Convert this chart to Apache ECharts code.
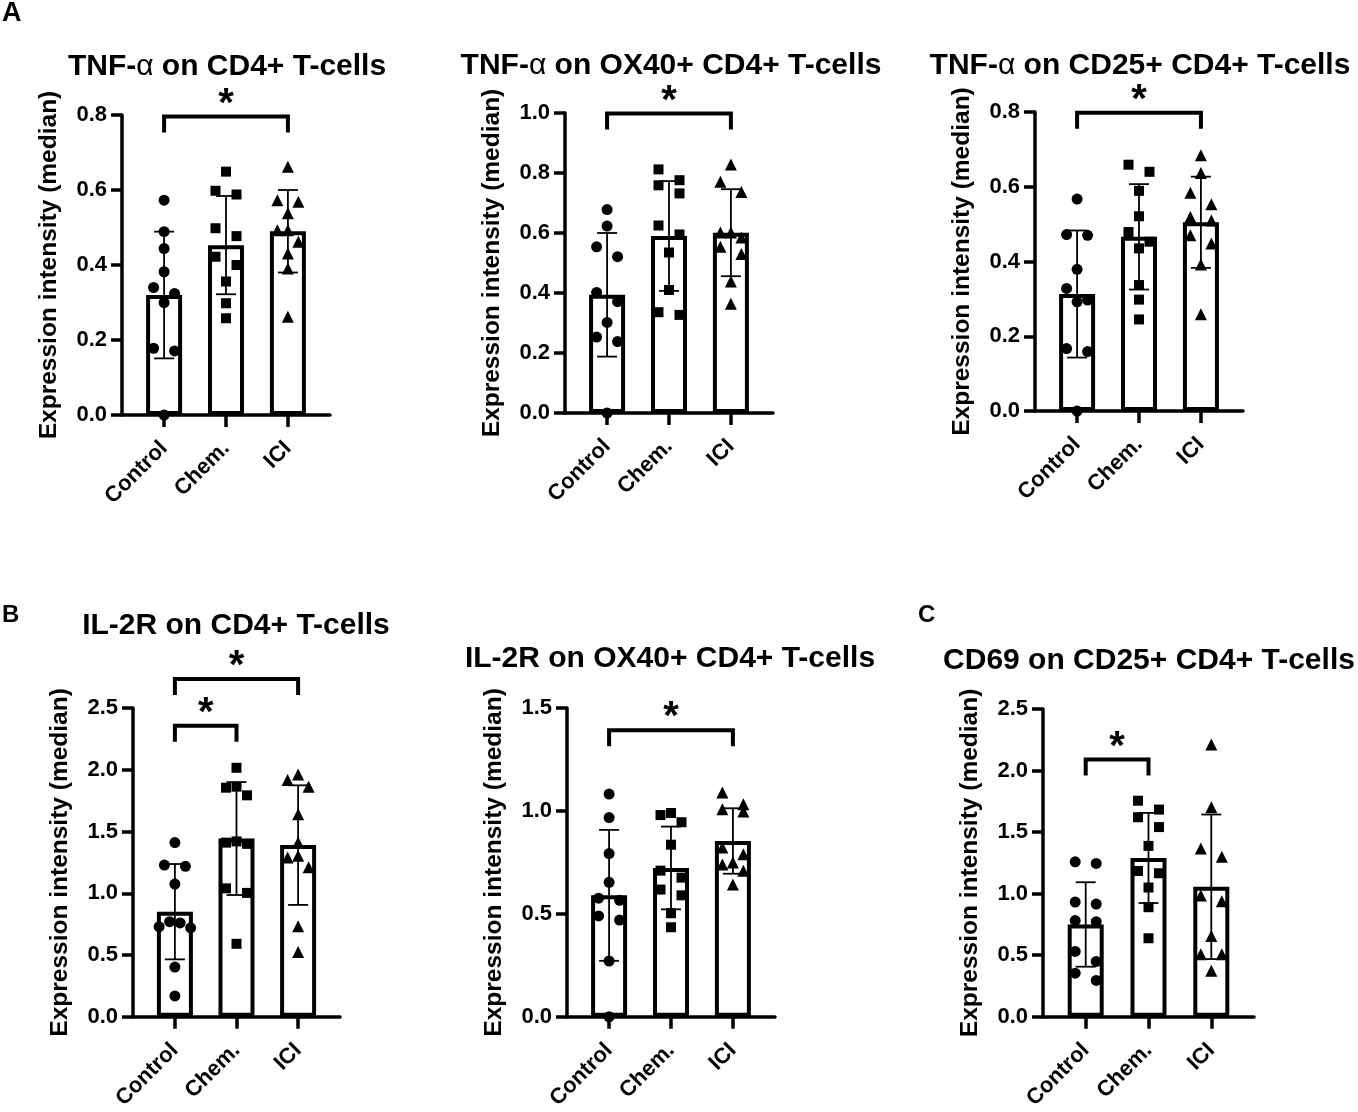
<!DOCTYPE html>
<html>
<head>
<meta charset="utf-8">
<script src="https://cdn.jsdelivr.net/npm/echarts@6/dist/echarts.min.js"></script>
<style>
html, body { margin: 0; padding: 0; background: #fff; }
#chart { width: 1358px; height: 1112px; }
</style>
</head>
<body>
<div id="chart"></div>
<script>
var groups = ['Control', 'Chem.', 'ICI'];
var yAxisName = 'Expression intensity (median)';

// A: TNF-a on CD4+ T-cells
var tnfCd4Control = [0.573, 0.489, 0.444, 0.382, 0.340, 0.324, 0.300, 0.178, 0.171, 0.0];
var tnfCd4Chem    = [0.649, 0.598, 0.588, 0.498, 0.477, 0.422, 0.400, 0.356, 0.298, 0.258];
var tnfCd4Ici     = [0.662, 0.573, 0.569, 0.538, 0.493, 0.493, 0.462, 0.431, 0.391, 0.262];
var tnfCd4Mean = [0.320, 0.453, 0.490];
var tnfCd4Sd   = [0.169, 0.131, 0.110];

// A: TNF-a on OX40+ CD4+ T-cells
var tnfOx40Control = [0.678, 0.623, 0.554, 0.521, 0.402, 0.371, 0.302, 0.253, 0.238, 0.0];
var tnfOx40Chem    = [0.812, 0.776, 0.759, 0.732, 0.625, 0.595, 0.535, 0.410, 0.336, 0.327];
var tnfOx40Ici     = [0.828, 0.771, 0.737, 0.602, 0.602, 0.585, 0.554, 0.530, 0.438, 0.364];
var tnfOx40Mean = [0.394, 0.590, 0.601];
var tnfOx40Sd   = [0.206, 0.183, 0.145];

// A: TNF-a on CD25+ CD4+ T-cells
var tnfCd25Control = [0.567, 0.472, 0.470, 0.379, 0.328, 0.297, 0.292, 0.167, 0.159, 0.0];
var tnfCd25Chem    = [0.659, 0.640, 0.589, 0.521, 0.479, 0.453, 0.435, 0.337, 0.298, 0.245];
var tnfCd25Ici     = [0.684, 0.637, 0.584, 0.553, 0.519, 0.510, 0.470, 0.448, 0.392, 0.259];
var tnfCd25Mean = [0.313, 0.466, 0.505];
var tnfCd25Sd   = [0.170, 0.141, 0.122];

// B: IL-2R on CD4+ T-cells
var il2rCd4Control = [1.411, 1.228, 1.218, 1.075, 0.770, 0.760, 0.730, 0.720, 0.403, 0.169];
var il2rCd4Chem    = [2.016, 1.863, 1.855, 1.793, 1.420, 1.410, 1.400, 1.040, 1.003, 0.591];
var il2rCd4Ici     = [1.962, 1.917, 1.863, 1.640, 1.411, 1.304, 1.290, 1.210, 0.734, 0.524];
var il2rCd4Mean = [0.851, 1.443, 1.390];
var il2rCd4Sd   = [0.386, 0.457, 0.484];

// B: IL-2R on OX40+ CD4+ T-cells
var il2rOx40Control = [1.082, 0.968, 0.793, 0.653, 0.576, 0.566, 0.490, 0.470, 0.271, 0.0];
var il2rOx40Chem    = [0.990, 0.980, 0.945, 0.836, 0.710, 0.676, 0.618, 0.590, 0.503, 0.435];
var il2rOx40Ici     = [1.089, 1.032, 1.008, 0.997, 0.822, 0.789, 0.750, 0.740, 0.710, 0.643];
var il2rOx40Mean = [0.590, 0.723, 0.854];
var il2rOx40Sd   = [0.318, 0.201, 0.159];

// C: CD69 on CD25+ CD4+ T-cells
var cd69Control = [1.259, 1.246, 0.932, 0.916, 0.782, 0.772, 0.531, 0.450, 0.354, 0.295];
var cd69Chem    = [1.755, 1.683, 1.621, 1.541, 1.388, 1.184, 1.166, 1.050, 0.890, 0.638];
var cd69Ici     = [2.211, 1.701, 1.367, 1.300, 0.986, 0.938, 0.656, 0.509, 0.509, 0.375];
var cd69Mean = [0.750, 1.290, 1.056];
var cd69Sd   = [0.343, 0.366, 0.587];

// significance brackets: [from group, to group, level]
var tnfCd4Sig   = [[0, 2, 0.796]];
var tnfOx40Sig  = [[0, 2, 0.998]];
var tnfCd25Sig  = [[0, 2, 0.798]];
var il2rCd4Sig  = [[0, 1, 2.357], [0, 2, 2.734]];
var il2rOx40Sig = [[0, 2, 1.392]];
var cd69Sig     = [[0, 1, 2.090]];

var font = '"Liberation Sans", Arial, Helvetica, sans-serif';
var X_MIN = -0.68, X_MAX = 2.68;
var symbols = ['circle', 'rect', 'triangle'];
var symbolSizes = [11, 10, 12];

var panels = [
  { title: 'TNF-{a|α} on CD4+ T-cells', values: [tnfCd4Control, tnfCd4Chem, tnfCd4Ici], mean: tnfCd4Mean, sd: tnfCd4Sd,
    sig: tnfCd4Sig, yMax: 0.8, yStep: 0.2, box: { left: 122, top: 115, width: 208, height: 300 }, tx: 227, ty: 67 },
  { title: 'TNF-{a|α} on OX40+ CD4+ T-cells', values: [tnfOx40Control, tnfOx40Chem, tnfOx40Ici], mean: tnfOx40Mean, sd: tnfOx40Sd,
    sig: tnfOx40Sig, yMax: 1.0, yStep: 0.2, box: { left: 565, top: 113, width: 208, height: 300 }, tx: 671, ty: 66 },
  { title: 'TNF-{a|α} on CD25+ CD4+ T-cells', values: [tnfCd25Control, tnfCd25Chem, tnfCd25Ici], mean: tnfCd25Mean, sd: tnfCd25Sd,
    sig: tnfCd25Sig, yMax: 0.8, yStep: 0.2, box: { left: 1035, top: 112, width: 208, height: 299 }, tx: 1140, ty: 66 },
  { title: 'IL-2R on CD4+ T-cells', values: [il2rCd4Control, il2rCd4Chem, il2rCd4Ici], mean: il2rCd4Mean, sd: il2rCd4Sd,
    sig: il2rCd4Sig, yMax: 2.5, yStep: 0.5, box: { left: 133, top: 708, width: 207, height: 310 }, tx: 236, ty: 626 },
  { title: 'IL-2R on OX40+ CD4+ T-cells', values: [il2rOx40Control, il2rOx40Chem, il2rOx40Ici], mean: il2rOx40Mean, sd: il2rOx40Sd,
    sig: il2rOx40Sig, yMax: 1.5, yStep: 0.5, box: { left: 567, top: 708, width: 208, height: 310 }, tx: 670, ty: 659 },
  { title: 'CD69 on CD25+ CD4+ T-cells', values: [cd69Control, cd69Chem, cd69Ici], mean: cd69Mean, sd: cd69Sd,
    sig: cd69Sig, yMax: 2.5, yStep: 0.5, box: { left: 1043, top: 709, width: 211, height: 311 }, tx: 1149, ty: 661 }
];

// spread points that sit at nearly the same height sideways (column scatter)
function swarm(values, pxPerY, slotX) {
  var order = values.map(function (v, i) { return i; })
    .sort(function (a, b) { return values[b] - values[a]; });
  var pattern = { 1: [0], 2: [-1, 1], 3: [0, -1, 1], 4: [-0.5, 0.5, -1.5, 1.5], 5: [0, -1, 1, -2, 2] };
  var off = [];
  var i = 0;
  while (i < order.length) {
    var j = i + 1;
    while (j < order.length && (values[order[i]] - values[order[j]]) * pxPerY < 13) j++;
    var pat = pattern[j - i] || pattern[5];
    for (var k = i; k < j; k++) off[order[k]] = (pat[k - i] || 0) * slotX;
    i = j;
  }
  return off;
}

var grid = [], xAxis = [], yAxis = [], series = [], graphic = [];
var axisColor = '#000';

panels.forEach(function (p, i) {
  grid.push({ left: p.box.left, top: p.box.top, width: p.box.width, height: p.box.height });
  xAxis.push({
    gridIndex: i, type: 'value', min: X_MIN, max: X_MAX,
    splitLine: { show: false },
    axisLine: { show: true, onZero: false, lineStyle: { color: axisColor, width: 3.5 } },
    axisTick: { show: true, customValues: [0, 1, 2], length: 12, lineStyle: { color: axisColor, width: 3.5 } },
    axisLabel: {
      customValues: [0, 1, 2], rotate: 45, margin: 30, color: '#000',
      fontSize: 22, fontWeight: 'bold', fontFamily: font,
      formatter: function (v) { return groups[Math.round(v)]; }
    }
  });
  yAxis.push({
    gridIndex: i, type: 'value', min: 0, max: p.yMax, interval: p.yStep,
    name: yAxisName, nameLocation: 'middle', nameGap: 60, nameRotate: 90,
    nameTextStyle: { color: '#000', fontSize: 24.5, fontWeight: 'bold', fontFamily: font },
    splitLine: { show: false },
    axisLine: { show: true, onZero: false, lineStyle: { color: axisColor, width: 3.5 } },
    axisTick: { show: true, length: 11, lineStyle: { color: axisColor, width: 3.5 } },
    axisLabel: {
      margin: 15, color: '#000', fontSize: 22, fontWeight: 'bold', fontFamily: font,
      formatter: function (v) { return v.toFixed(1); }
    }
  });

  series.push({
    type: 'bar', xAxisIndex: i, yAxisIndex: i, barWidth: 36, silent: true, z: 2,
    itemStyle: { color: '#fff', borderColor: '#000', borderWidth: 4 },
    data: p.mean.map(function (m, k) { return [k, m]; })
  });

  series.push({
    type: 'custom', xAxisIndex: i, yAxisIndex: i, silent: true, z: 3, clip: false,
    data: p.mean.map(function (m, k) { return [k, m, p.sd[k]]; }),
    renderItem: function (params, api) {
      var x = api.value(0), m = api.value(1), s = api.value(2);
      var hi = api.coord([x, m + s]), lo = api.coord([x, m - s]);
      var cap = 10, st = { stroke: '#000', lineWidth: 1.8 };
      return { type: 'group', children: [
        { type: 'line', shape: { x1: hi[0], y1: hi[1], x2: lo[0], y2: lo[1] }, style: st },
        { type: 'line', shape: { x1: hi[0] - cap, y1: hi[1], x2: hi[0] + cap, y2: hi[1] }, style: st },
        { type: 'line', shape: { x1: lo[0] - cap, y1: lo[1], x2: lo[0] + cap, y2: lo[1] }, style: st }
      ] };
    }
  });

  var pxPerY = p.box.height / p.yMax;
  var slotX = 10.5 / (p.box.width / (X_MAX - X_MIN));
  p.values.forEach(function (vals, k) {
    var off = swarm(vals, pxPerY, slotX);
    series.push({
      type: 'scatter', xAxisIndex: i, yAxisIndex: i, silent: true, z: 4, clip: false,
      symbol: symbols[k], symbolSize: symbolSizes[k],
      itemStyle: { color: '#000', opacity: 1 },
      data: vals.map(function (v, n) { return [k + off[n], v]; })
    });
  });

  series.push({
    type: 'custom', xAxisIndex: i, yAxisIndex: i, silent: true, z: 5, clip: false,
    data: p.sig,
    renderItem: function (params, api) {
      var a = api.coord([api.value(0), api.value(2)]);
      var b = api.coord([api.value(1), api.value(2)]);
      var leg = 16;
      return { type: 'group', children: [
        { type: 'polyline',
          shape: { points: [[a[0], a[1] + leg], [a[0], a[1]], [b[0], b[1]], [b[0], b[1] + leg]] },
          style: { stroke: '#000', lineWidth: 4, fill: null, lineJoin: 'miter' } },
        { type: 'text', x: (a[0] + b[0]) / 2, y: a[1] - 12,
          style: { text: '*', fill: '#000', fontSize: 40, fontWeight: 'bold', fontFamily: font,
                   align: 'center', verticalAlign: 'middle' } }
      ] };
    }
  });

  graphic.push({
    type: 'text', x: p.tx, y: p.ty, silent: true,
    style: {
      text: p.title, fill: '#000', fontSize: 30, fontWeight: 'bold', fontFamily: font,
      align: 'center', verticalAlign: 'middle',
      rich: { a: { fontSize: 30, fontWeight: 'normal', fontFamily: font, fill: '#000' } }
    }
  });
});

[['A', 2, 14, 27], ['B', 2, 615, 24], ['C', 918, 615, 24]].forEach(function (l) {
  graphic.push({
    type: 'text', x: l[1], y: l[2], silent: true,
    style: { text: l[0], fill: '#000', fontSize: l[3], fontWeight: 'bold', fontFamily: font,
             align: 'left', verticalAlign: 'middle' }
  });
});

var chart = echarts.init(document.getElementById('chart'));
chart.setOption({
  backgroundColor: '#fff',
  animation: false,
  grid: grid,
  xAxis: xAxis,
  yAxis: yAxis,
  series: series,
  graphic: graphic
});
</script>
</body>
</html>
